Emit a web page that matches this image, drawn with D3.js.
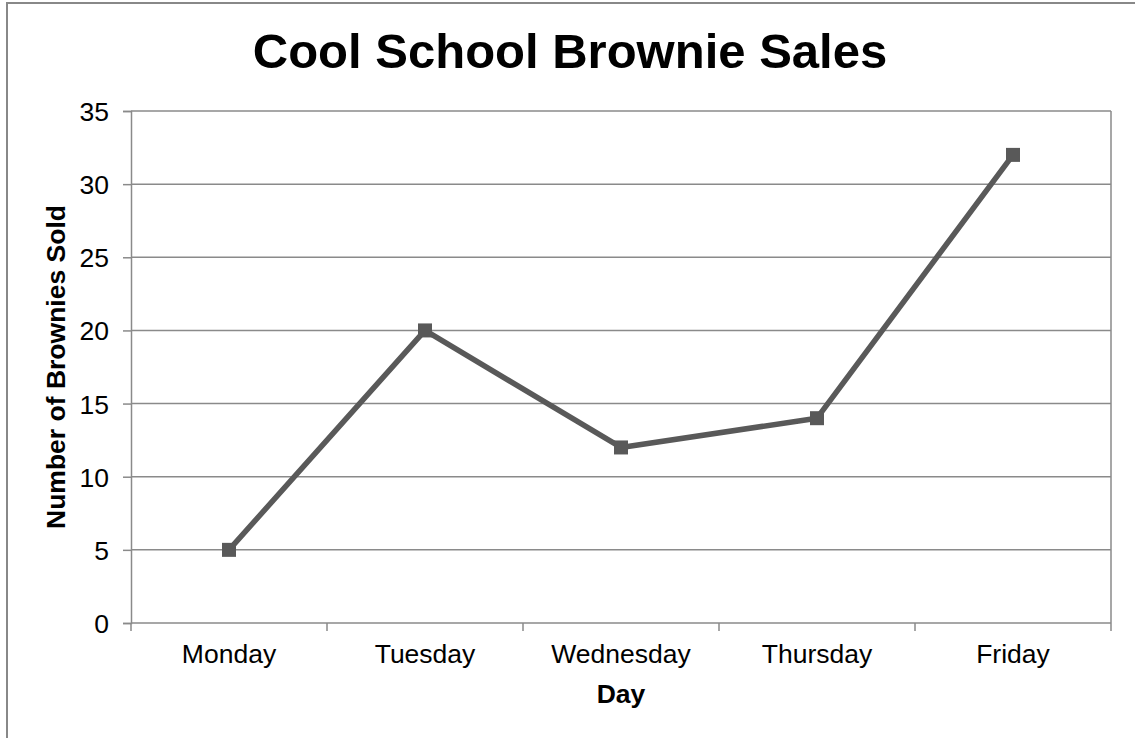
<!DOCTYPE html>
<html><head><meta charset="utf-8">
<script src="https://cdn.jsdelivr.net/npm/d3@7"></script>
<style>body{margin:0;background:#fff;}svg{display:block;font-family:"Liberation Sans",Arial,sans-serif;}</style>
</head><body>
<script>
const days = ["Monday","Tuesday","Wednesday","Thursday","Friday"];
const sold = [5,20,12,14,32];
const yTicks = [0,5,10,15,20,25,30,35];
const title = "Cool School Brownie Sales";
const xTitle = "Day";
const yTitle = "Number of Brownies Sold";

const W=1135,H=738;
const m={left:131,right:1111,top:111,bottom:623};
const FS=26.5;
const svg=d3.select("body").append("svg").attr("width",W).attr("height",H);
svg.append("rect").attr("x",7).attr("y",3).attr("width",W+10).attr("height",H+10)
  .attr("fill","#fff").attr("stroke","#888").attr("stroke-width",2);

const x=d3.scaleBand().domain(days).range([m.left,m.right]).padding(0);
const y=d3.scaleLinear().domain([0,35]).range([m.bottom,m.top]);
const grid="#8a8a8a";

// gridlines
svg.append("g").selectAll("line").data(yTicks.filter(d=>d>0)).join("line")
  .attr("x1",m.left).attr("x2",m.right).attr("y1",d=>y(d)).attr("y2",d=>y(d))
  .attr("stroke",grid).attr("stroke-width",1.5);
// right border of plot
svg.append("line").attr("x1",m.right).attr("x2",m.right).attr("y1",m.top).attr("y2",m.bottom)
  .attr("stroke",grid).attr("stroke-width",1.5);

// y axis
const ya=svg.append("g").attr("transform",`translate(${m.left},0)`)
  .call(d3.axisLeft(y).tickValues(yTicks).tickSize(8).tickPadding(14));
ya.attr("font-size",null).attr("font-family",null);
ya.select(".domain").attr("stroke",grid).attr("stroke-width",1.5);
ya.selectAll(".tick line").attr("stroke",grid).attr("stroke-width",1.5);
ya.selectAll("text").attr("font-size",FS).attr("fill","#000").attr("dy","0.36em");

// x axis
const xa=svg.append("g").attr("transform",`translate(0,${m.bottom})`)
  .call(d3.axisBottom(x).tickSize(0).tickPadding(0));
xa.attr("font-size",null).attr("font-family",null);
xa.select(".domain").attr("stroke",grid).attr("stroke-width",1.5).attr("d",`M${m.left},0H${m.right}`);
xa.selectAll("text").attr("font-size",FS).attr("fill","#000").attr("dy",null).attr("y",40);
// category boundary ticks
const bounds=days.map(d=>x(d)).concat([m.right]);
svg.append("g").selectAll("line").data(bounds).join("line")
  .attr("x1",d=>d).attr("x2",d=>d).attr("y1",m.bottom).attr("y2",m.bottom+8)
  .attr("stroke",grid).attr("stroke-width",1.5);

// line
const cx=d=>x(d)+x.bandwidth()/2;
const line=d3.line().x((d,i)=>cx(days[i])).y(d=>y(d));
svg.append("path").datum(sold).attr("d",line).attr("fill","none")
  .attr("stroke","#595959").attr("stroke-width",5.5).attr("stroke-linejoin","round");
svg.append("g").selectAll("rect").data(sold).join("rect")
  .attr("x",(d,i)=>cx(days[i])-7).attr("y",d=>y(d)-7).attr("width",14).attr("height",14)
  .attr("fill","#595959");

// titles
svg.append("text").attr("x",570).attr("y",68).attr("text-anchor","middle")
  .attr("font-size",49).attr("font-weight","bold").text(title);
svg.append("text").attr("x",(m.left+m.right)/2).attr("y",703).attr("text-anchor","middle")
  .attr("font-size",FS).attr("font-weight","bold").text(xTitle);
svg.append("text").attr("transform",`translate(65,${(m.top+m.bottom)/2}) rotate(-90)`)
  .attr("text-anchor","middle").attr("font-size",FS).attr("font-weight","bold").text(yTitle);
</script>
</body></html>
